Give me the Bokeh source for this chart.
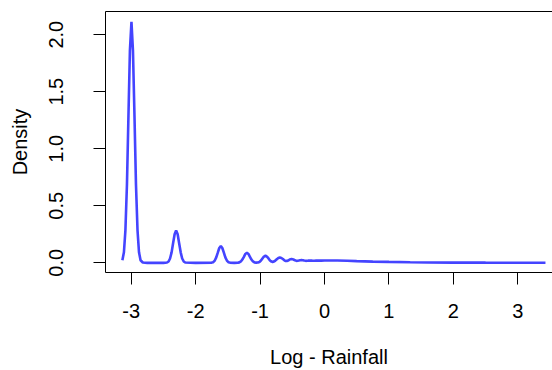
from bokeh.plotting import figure
from bokeh.models import Range1d, FixedTicker, LinearAxis
from bokeh.embed import file_html
from bokeh.resources import INLINE

# Density curve of log rainfall
dens_x = [-3.137, -3.113, -3.090, -3.066, -3.043, -3.020, -2.996, -2.973, -2.949, -2.926, -2.902, -2.879, -2.855, -2.820, -2.750,
          -2.500,
          -2.444, -2.420, -2.397, -2.373, -2.350, -2.326, -2.303, -2.279, -2.256, -2.232, -2.209, -2.185, -2.162,
          -2.000,
          -1.750, -1.727, -1.703, -1.680, -1.656, -1.633, -1.609, -1.586, -1.562, -1.539, -1.515, -1.492, -1.468,
          -1.400,
          -1.345, -1.322, -1.298, -1.275, -1.251, -1.228, -1.204, -1.181, -1.157, -1.134, -1.110, -1.087, -1.060,
          -1.035, -1.010, -0.986, -0.963, -0.940, -0.916, -0.893, -0.869, -0.846, -0.822, -0.805,
          -0.787, -0.763, -0.740, -0.716, -0.693, -0.670, -0.646, -0.623, -0.602,
          -0.582, -0.564, -0.540, -0.511, -0.482, -0.458, -0.434,
          -0.415, -0.400, -0.378, -0.357, -0.336, -0.315, -0.290,
          -0.270, -0.255, -0.223, -0.190, -0.160,
          -0.130, -0.105, -0.050, 0.000, 0.100, 0.200, 0.350, 0.500, 0.750, 1.000, 1.330, 1.600, 2.000, 2.500, 3.000, 3.430]
dens_y = [0.023, 0.093, 0.285, 0.686, 1.282, 1.863, 2.112, 1.863, 1.282, 0.686, 0.285, 0.093, 0.023, 0.003, 0.000,
          0.000,
          0.003, 0.012, 0.038, 0.092, 0.172, 0.250, 0.284, 0.250, 0.172, 0.092, 0.038, 0.012, 0.003,
          0.000,
          0.002, 0.006, 0.020, 0.048, 0.089, 0.130, 0.147, 0.130, 0.089, 0.048, 0.020, 0.006, 0.002,
          0.000,
          0.001, 0.004, 0.012, 0.029, 0.053, 0.078, 0.088, 0.078, 0.053, 0.029, 0.012, 0.004, 0.002,
          0.003, 0.008, 0.020, 0.038, 0.055, 0.062, 0.055, 0.039, 0.021, 0.011, 0.008,
          0.011, 0.020, 0.032, 0.043, 0.047, 0.043, 0.033, 0.022, 0.016,
          0.017, 0.020, 0.029, 0.033, 0.029, 0.022, 0.017,
          0.018, 0.020, 0.023, 0.024, 0.023, 0.020, 0.0175,
          0.018, 0.019, 0.020, 0.019, 0.0185,
          0.019, 0.019, 0.019, 0.020, 0.021, 0.020, 0.018, 0.015, 0.011, 0.008, 0.005, 0.0035, 0.0022, 0.0015, 0.001, 0.0008]

x_ticks = [-3, -2, -1, 0, 1, 2, 3]
x_tick_labels = ["-3", "-2", "-1", "0", "1", "2", "3"]
y_ticks = [0.0, 0.5, 1.0, 1.5, 2.0]
y_tick_labels = ["0.0", "0.5", "1.0", "1.5", "2.0"]

FONT = "Liberation Sans"
FS = "20px"

p = figure(width=552, height=370, output_backend="svg", toolbar_location=None,
           x_range=Range1d(-3.399, 3.539), y_range=Range1d(-0.0847, 2.203),
           min_border_left=105, min_border_right=0, min_border_top=11, min_border_bottom=97,
           x_axis_label="Log - Rainfall", y_axis_label="Density")
p.background_fill_color = "white"
p.border_fill_color = "white"
p.outline_line_color = None
p.grid.visible = False

p.line(dens_x, dens_y, line_color="#4444FF", line_width=2.6)

for ax in (p.xaxis[0], p.yaxis[0]):
    ax.axis_line_color = "black"
    ax.axis_line_width = 1
    ax.major_tick_line_color = "black"
    ax.major_tick_out = 12
    ax.major_tick_in = 0
    ax.minor_tick_line_color = None
    ax.major_label_text_font = FONT
    ax.major_label_text_font_size = FS
    ax.major_label_text_color = "black"
    ax.axis_label_text_font = FONT
    ax.axis_label_text_font_size = FS
    ax.axis_label_text_font_style = "normal"
    ax.axis_label_text_color = "black"

p.xaxis[0].ticker = FixedTicker(ticks=x_ticks)
p.xaxis[0].major_label_overrides = dict(zip(x_ticks, x_tick_labels))
p.xaxis[0].major_label_standoff = 19
p.xaxis[0].axis_label_standoff = 25

p.yaxis[0].ticker = FixedTicker(ticks=y_ticks)
p.yaxis[0].major_label_overrides = dict(zip(y_ticks, y_tick_labels))
p.yaxis[0].major_label_orientation = "vertical"
p.yaxis[0].major_label_standoff = 30
p.yaxis[0].axis_label_standoff = 16

top = LinearAxis(ticker=FixedTicker(ticks=[]), axis_line_color="black", axis_line_width=1,
                 major_tick_line_color=None, minor_tick_line_color=None,
                 major_label_text_font_size="0px")
p.add_layout(top, "above")

open("out.html", "w").write(file_html(p, INLINE))
